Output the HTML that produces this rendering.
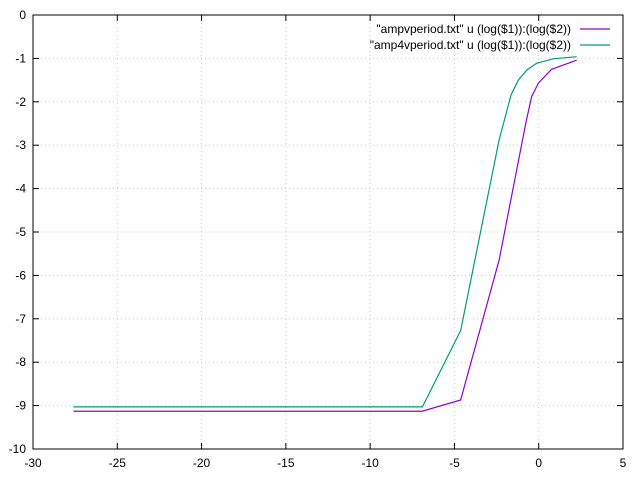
<!DOCTYPE html>
<html><head><meta charset="utf-8"><style>
html,body{margin:0;padding:0;background:#fff}
svg{display:block;font-family:"Liberation Sans",sans-serif;font-size:12px}
</style></head><body>
<svg id="chart" width="640" height="480">
<rect x="0" y="0" width="640" height="480" fill="#fff"/>
<g id="grid"></g>
<g id="axes"></g>
<g id="series"></g>
<g id="legend"></g>
</svg>
<script>
const xTicks=[-30,-25,-20,-15,-10,-5,0,5];
const yTicks=[0,-1,-2,-3,-4,-5,-6,-7,-8,-9,-10];
const seriesNames=['"ampvperiod.txt" u (log($1)):(log($2))','"amp4vperiod.txt" u (log($1)):(log($2))'];
const purpleX=[-27.6,-6.92,-4.63,-2.35,-0.75,-0.42,-0.02,0.77,2.25];
const purpleY=[-9.13,-9.13,-8.87,-5.65,-2.46,-1.88,-1.57,-1.25,-1.04];
const greenX=[-27.6,-6.9,-4.63,-2.35,-1.64,-1.21,-0.71,-0.12,0.87,2.25];
const greenY=[-9.03,-9.03,-7.27,-2.88,-1.84,-1.5,-1.27,-1.11,-1.01,-0.96];
const L=33,R=623,T=15,B=449;
const X=v=>L+(v+30)/35*(R-L);
const Y=v=>T+(0-v)/10*(B-T);
const NS='http://www.w3.org/2000/svg';
function mk(p,tag,a){const e=document.createElementNS(NS,tag);for(const k in a)e.setAttribute(k,a[k]);p.appendChild(e);return e;}
const grid=document.getElementById('grid'),axes=document.getElementById('axes'),ser=document.getElementById('series'),leg=document.getElementById('legend');
xTicks.forEach(t=>{const x=X(t);
 if(t>-30&&t<5){const g=mk(grid,'line',{x1:x,y1:T,x2:x,y2:B,stroke:'#ccc','stroke-dasharray':'1,3'});
 }
 mk(axes,'line',{x1:x,y1:B,x2:x,y2:B-6,stroke:'#000'});mk(axes,'line',{x1:x,y1:T,x2:x,y2:T+6,stroke:'#000'});
 const tx=mk(axes,'text',{x:x,y:B+18,'text-anchor':'middle',fill:'#000'});tx.textContent=t;
 });
yTicks.forEach(t=>{const y=Y(t);
 if(t<0&&t>-10){const g=mk(grid,'line',{x1:L,y1:y,x2:R,y2:y,stroke:'#ccc','stroke-dasharray':'1,3'});
 }
 mk(axes,'line',{x1:L,y1:y,x2:L+6,y2:y,stroke:'#000'});mk(axes,'line',{x1:R,y1:y,x2:R-6,y2:y,stroke:'#000'});
 const tx=mk(axes,'text',{x:L-7,y:y+4,'text-anchor':'end',fill:'#000'});tx.textContent=t;
 });
const fr=mk(axes,'rect',{x:L,y:T,width:R-L,height:B-T,fill:'none',stroke:'#000'});

function line(xs,ys,c,n){const pl=mk(ser,'polyline',{points:xs.map((x,i)=>X(x)+','+Y(ys[i])).join(' '),fill:'none',stroke:c,'stroke-width':1.2});
 }
line(purpleX,purpleY,'#9400d3','ampvperiod-line');
line(greenX,greenY,'#009e73','amp4vperiod-line');
[['#9400d3',29],['#009e73',45]].forEach((c,i)=>{
 const t=mk(leg,'text',{x:571,y:c[1]+4,'text-anchor':'end',fill:'#000'});t.textContent=seriesNames[i];
 
 const l=mk(leg,'line',{x1:580,y1:c[1],x2:610,y2:c[1],stroke:c[0],'stroke-width':1.2});
 });
</script>
</body></html>
